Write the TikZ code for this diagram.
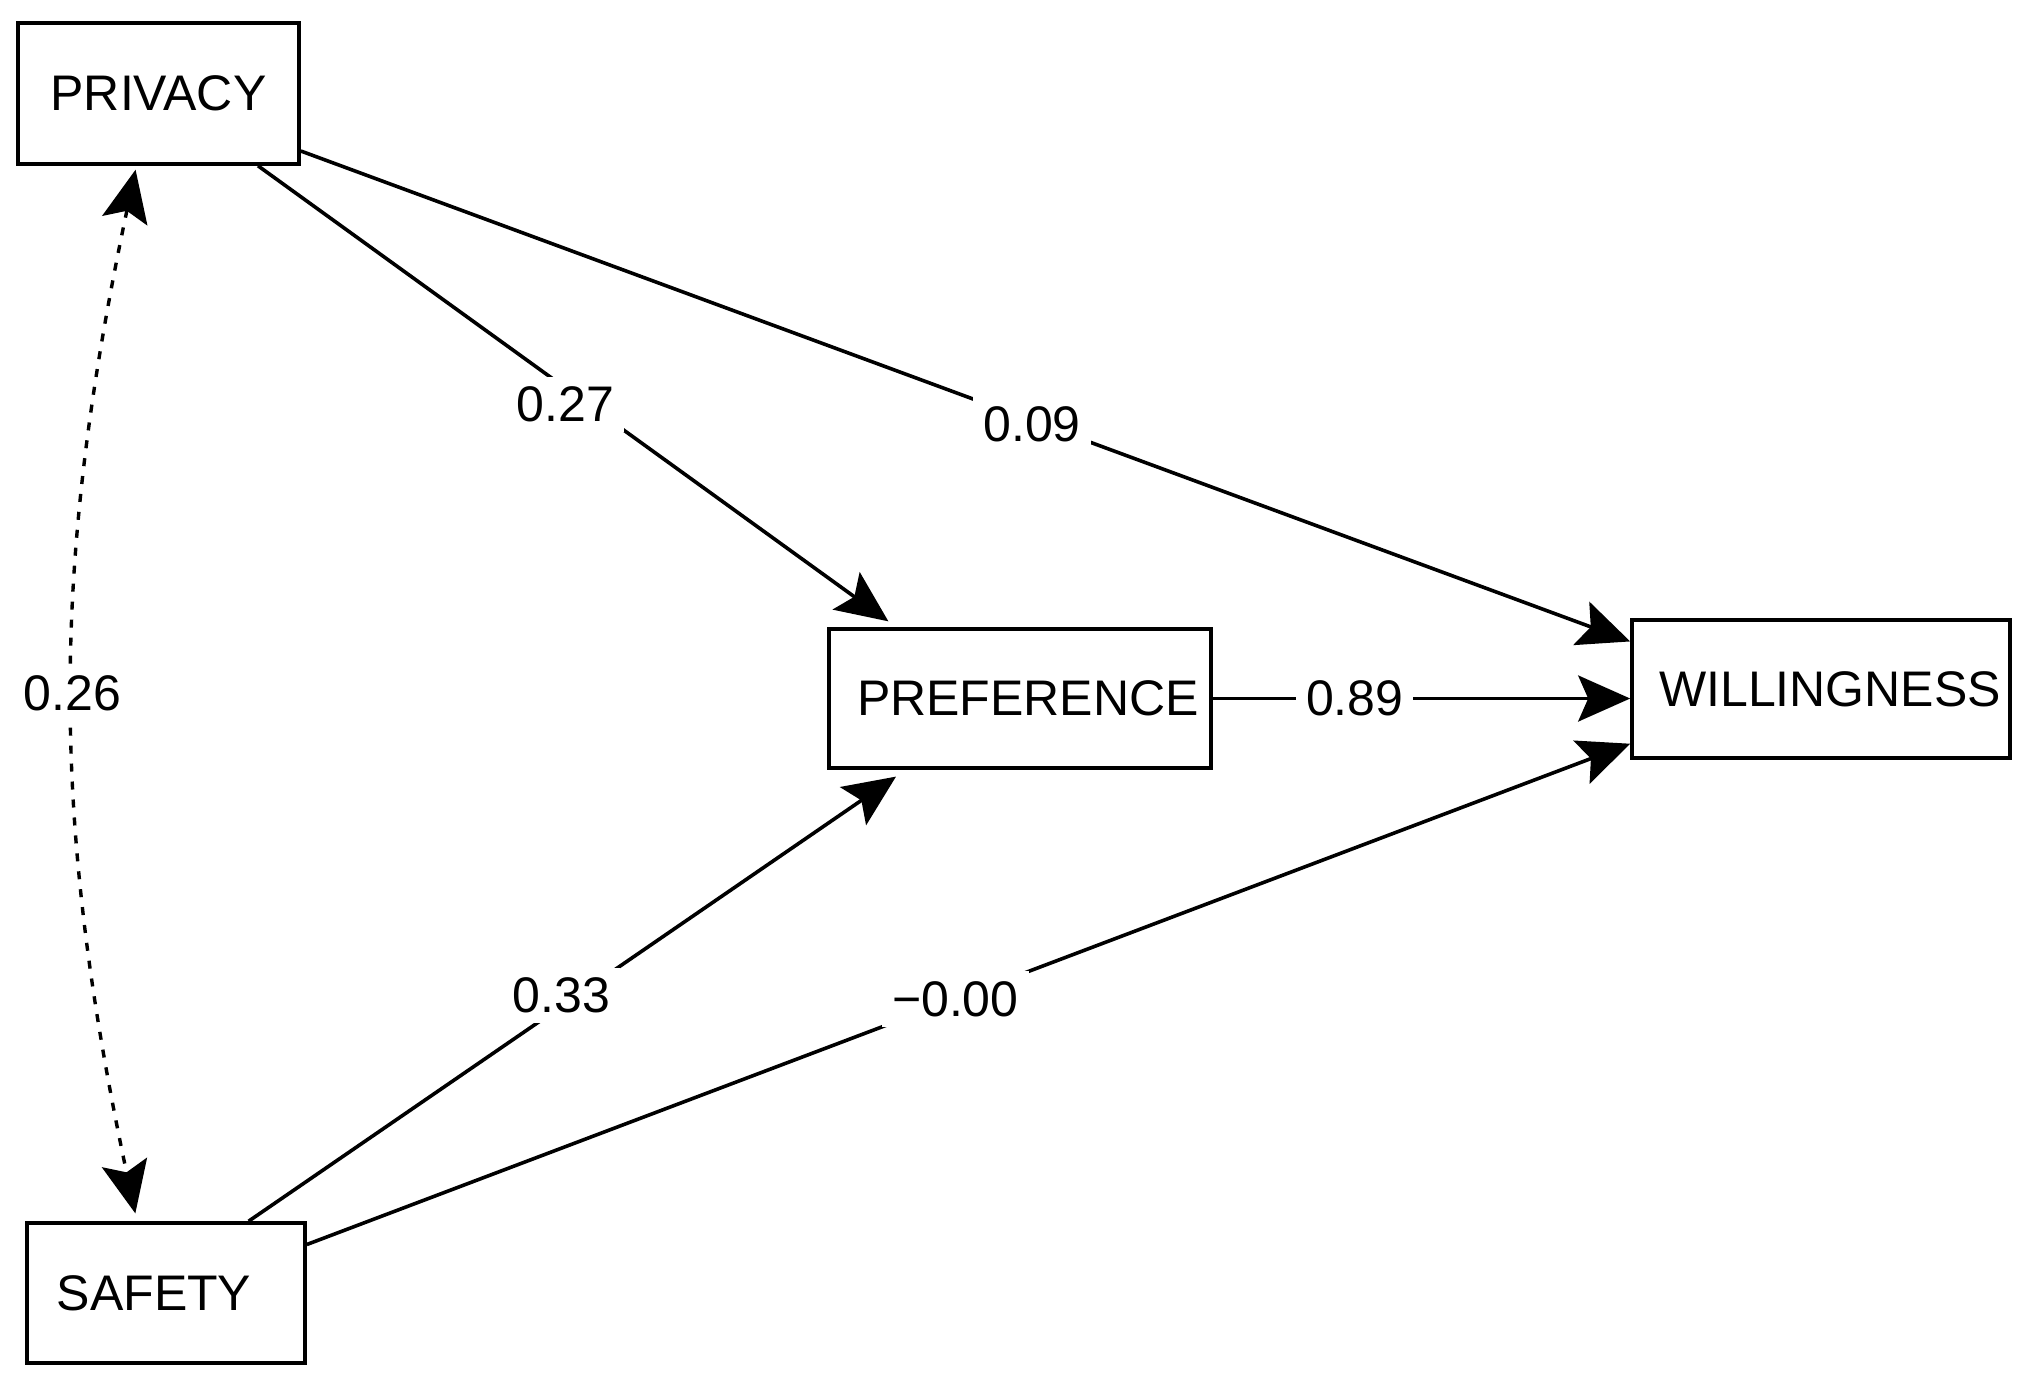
\documentclass[tikz,border=0pt]{standalone}
\usepackage{fontspec}
\setmainfont{Liberation Sans}
\usetikzlibrary{arrows.meta}
\begin{document}
\begin{tikzpicture}[x=0.5pt,y=-0.5pt,
        box/.style={draw,line width=1.8pt,inner sep=0pt,font=\fontsize{25}{30}\selectfont},
        lbl/.style={fill=white,inner sep=5pt,font=\fontsize{25}{30}\selectfont},
        arr/.style={line width=1.8pt,-{Stealth[length=26pt,width=23pt,inset=5pt]}},
        dotarr/.style={line width=1.7pt,dash pattern=on 4pt off 5pt,{Stealth[length=26pt,width=23pt,inset=5pt]}-{Stealth[length=26pt,width=23pt,inset=5pt]}}]
    \useasboundingbox (0,0) rectangle (2026,1388);

    \node[box,minimum width=140.5pt,minimum height=70.5pt] (privacy) at (158.5,93.5) {PRIVACY};
    \node[box,minimum width=139pt,minimum height=70pt] (safety) at (166,1293) {SAFETY\rule{12pt}{0pt}};
    \node[box,minimum width=191pt,minimum height=69.5pt] (preference) at (1020,698.5) {\hspace{8pt}PREFERENCE};
    \node[box,minimum width=189pt,minimum height=69pt] (willingness) at (1821,689) {\hspace{9pt}WILLINGNESS};

    \draw[arr,shorten >=5pt] (privacy.-36) -- (preference.150) node[lbl,midway,xshift=-6pt,yshift=-4pt] (w27) {0.27};
    \draw[arr] (privacy.-22) -- (willingness.166) node[lbl,pos=0.55,yshift=-2pt] (w09) {0.09};
    \draw[arr] (preference.east) -- (preference.east -| willingness.west) node[lbl,pos=0.34] (w89) {0.89};
    \draw[arr,shorten >=6pt] (safety.41) -- (preference.212) node[lbl,midway,xshift=-8pt] (w33) {0.33};
    \draw[arr] (safety.19) -- (willingness.196) node[lbl,pos=0.49] (w00) {−0.00};

    % covariance
    \draw[dotarr,shorten <=2pt,shorten >=4pt] (privacy.253) to[bend right=12] node[lbl,midway] (w26) {0.26} (safety.112);
\end{tikzpicture}
\end{document}
